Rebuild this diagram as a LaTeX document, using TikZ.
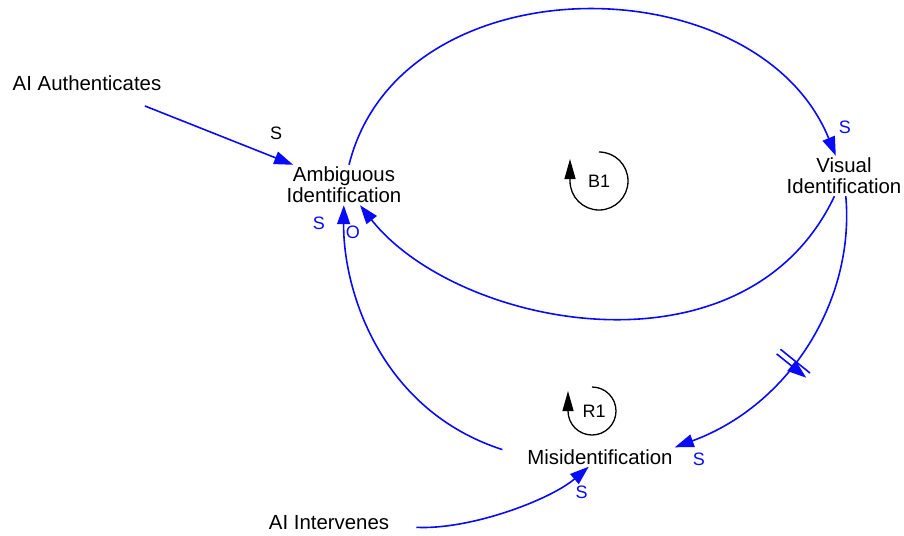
\documentclass[tikz,border=0pt]{standalone}
\usepackage{fontspec}
\setmainfont{Liberation Sans}
\usetikzlibrary{arrows.meta,decorations.markings}
\definecolor{linkblue}{RGB}{10,10,250}

\begin{document}
\begin{tikzpicture}[x=1pt,y=-1pt,
    var/.style={align=center,inner sep=2pt,font=\fontsize{20.4}{21}\selectfont},
    link/.style={draw=linkblue,line width=1.6pt,-{Triangle[length=19pt,width=13pt]}},
    pol/.style={text=linkblue,font=\fontsize{18}{18}\selectfont},
    loopname/.style={font=\fontsize{18}{18}\selectfont},
    loopline/.style={line width=1.3pt,-{Triangle[length=20pt,width=11pt]}},
    delaymark/.style={postaction={decorate},decoration={markings,mark=at position #1 with
        {\draw[linkblue,line width=1.6pt] (-3pt,-19pt) -- (-3pt,19pt) (3pt,-19pt) -- (3pt,19pt);}}}]
    \useasboundingbox (0,0) rectangle (904,535);

    \node[var] (auth) at (87,83) {AI Authenticates};
    \node[var] (amb) at (344,185) {Ambiguous\\Identification};
    \node[var] (vis) at (844,176) {Visual\\Identification};
    \node[var] (misid) at (600,457) {Misidentification};
    \node[var] (ains) at (329,523) {AI Intervenes};

    % Loops
    \node[loopname] (b1) at (599,181) {B1};
    \draw[loopline] (b1.center) ++(0,-29) arc[start angle=-90,end angle=180,radius=29] -- ++(0,-22);
    \node[loopname] (r1) at (594,411) {R1};
    \draw[loopline] (r1.center) ++(-2,-24) arc[start angle=-90,end angle=180,radius=24] -- ++(0,-20);

    % Arrows
    \draw[link,shorten <=36pt] (auth) -- (amb) node[pol,text=black,at end,xshift=-17pt,yshift=32pt] (s1) {S};
    \draw[link] (amb) .. controls (400,-40) and (757,-38) .. (vis) node[pol,at end,xshift=9pt,yshift=29pt] (s2) {S};
    \draw[link] (vis) .. controls (745,385) and (457,328) .. (amb) node[pol,at end,xshift=-7pt,yshift=-27pt] (o3) {O};
    \draw[link,delaymark=.55] (vis) .. controls (855,300) and (790,405) .. (misid.north east) node[pol,at end,xshift=24pt,yshift=-12pt] (s4) {S};
    \draw[link,shorten <=24pt] (misid.west) .. controls (380,410) and (343,290) .. (amb) node[pol,at end,xshift=-25pt,yshift=-18pt] (s5) {S};
    \draw[link,shorten <=25pt] (ains) .. controls (470,530) and (550,500) .. (misid) node[pol,at end,xshift=-7pt,yshift=-26pt] (s6) {S};
\end{tikzpicture}
\end{document}
